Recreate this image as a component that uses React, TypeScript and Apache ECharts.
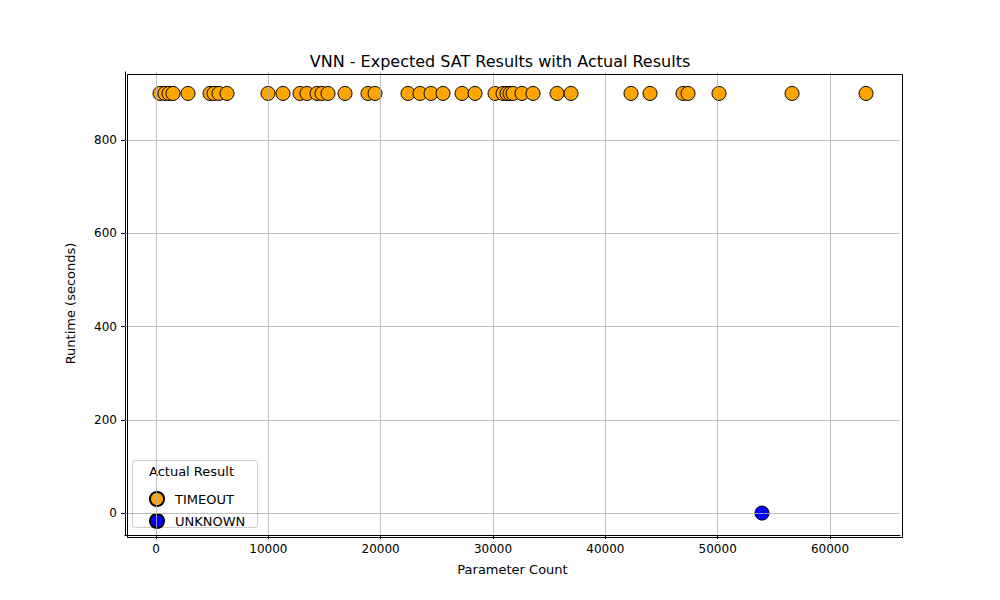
import React, { useEffect, useRef } from "react";
import * as echarts from "echarts";

const timeoutX = [356, 801, 1157, 1513, 2849, 4807, 5163, 5608, 6321, 9971, 11306, 12820, 13443, 14333, 14778, 15312, 16826, 18873, 19497, 22434, 23502, 24482, 25550, 27241, 28399, 30179, 30891, 31247, 31514, 31781, 32582, 33561, 35698, 36944, 42286, 43977, 46915, 47360, 50120, 56619, 63207];
const timeoutY = 900;
const unknownPts = [[53948, 0]];
const xTicks = [0, 10000, 20000, 30000, 40000, 50000, 60000];
const yTicks = [0, 200, 400, 600, 800];

export default function App() {
  const ref = useRef<HTMLDivElement>(null);
  useEffect(() => {
    const chart = echarts.init(ref.current!, null, { renderer: "svg" });
    const font = "DejaVu Sans";
    const grid = { color: "#b0b0b0", width: 0.8 };
    chart.setOption({
      animation: false,
      textStyle: { fontFamily: font },
      title: { text: "VNN - Expected SAT Results with Actual Results", left: "center", top: 48, textStyle: { fontSize: 16, fontWeight: "normal", color: "#000", fontFamily: font } },
      grid: { left: 125, right: 100, top: 72, bottom: 65 },
      xAxis: {
        type: "value", min: -2760, max: 66230,
        name: "Parameter Count", nameLocation: "middle", nameGap: 28, nameTextStyle: { fontSize: 13, color: "#000" },
        axisLine: { onZero: false, lineStyle: { color: "#000" } },
        splitLine: { show: false },
        axisTick: { customValues: xTicks, length: 4, lineStyle: { color: "#000" } },
        axisLabel: { customValues: xTicks, color: "#000", fontSize: 12, formatter: (v: number) => String(v) },
      },
      yAxis: {
        type: "value", min: -47, max: 946,
        name: "Runtime (seconds)", nameLocation: "middle", nameGap: 48, nameTextStyle: { fontSize: 13, color: "#000" },
        axisLine: { show: true, onZero: false, lineStyle: { color: "#000" } },
        splitLine: { show: false },
        axisTick: { show: true, customValues: yTicks, length: 4, lineStyle: { color: "#000" } },
        axisLabel: { customValues: yTicks, color: "#000", fontSize: 12, formatter: (v: number) => String(v) },
      },
      legend: {
        orient: "vertical", left: 144, top: 486, itemGap: 6, itemWidth: 14, itemHeight: 14,
        textStyle: { fontSize: 13, color: "#000", padding: [0, 0, 0, 6] },
        data: ["TIMEOUT", "UNKNOWN"],
      },
      graphic: [
        { type: "rect", left: 132, top: 460, shape: { width: 125, height: 67, r: 3 }, style: { fill: "#fff", stroke: "#ccc", lineWidth: 1 }, z: -1 },
        { type: "text", left: 149, top: 465, style: { text: "Actual Result", fontSize: 13, fill: "#000", fontFamily: font } },
        { type: "rect", left: 125, top: 72, shape: { width: 775, height: 463 }, style: { fill: "none", stroke: "#000", lineWidth: 1 }, z: 10, silent: true },
      ],
      series: [
        {
          name: "grid", type: "scatter", data: [], silent: true,
          markLine: {
            symbol: "none", silent: true, label: { show: false }, lineStyle: { ...grid, type: "solid" },
            data: [...xTicks.map((v) => ({ xAxis: v })), ...yTicks.map((v) => ({ yAxis: v }))],
          },
        },
        {
          name: "TIMEOUT", type: "scatter", symbolSize: 14,
          data: timeoutX.map((x) => [x, timeoutY]),
          itemStyle: { color: "orange", borderColor: "#000", borderWidth: 1, opacity: 1 },
        },
        {
          name: "UNKNOWN", type: "scatter", symbolSize: 14, data: unknownPts,
          itemStyle: { color: "blue", borderColor: "#000", borderWidth: 1, opacity: 1 },
        },
      ],
    });
    return () => chart.dispose();
  }, []);
  return <div ref={ref} style={{ position: "absolute", left: 0, top: 0, width: 1000, height: 600 }} />;
}
